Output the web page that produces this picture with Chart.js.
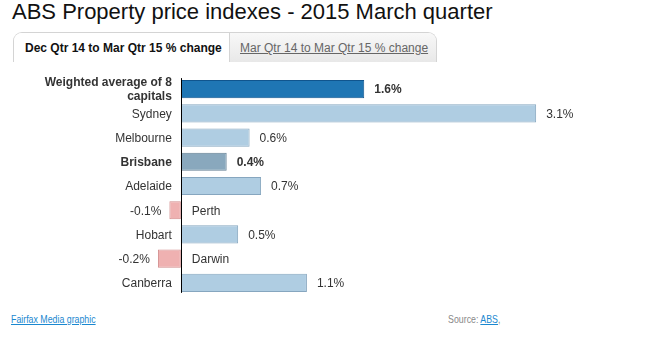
<!DOCTYPE html>
<html>
<head>
<meta charset="utf-8">
<script src="https://cdn.jsdelivr.net/npm/chart.js@4"></script>
<style>
  body { margin: 0; width: 647px; height: 359px; background: #fff; font-family: Arial, "Liberation Sans", sans-serif; position: relative; overflow: hidden; }
  h1 { position: absolute; left: 12px; top: -1px; margin: 0; font-size: 22px; font-weight: normal; color: #111; line-height: 26px; white-space: nowrap; }
  .tabs { position: absolute; left: 13px; top: 32px; height: 29px; width: 422px; border: 1px solid #d4d4d4; border-bottom: none; border-radius: 9px 9px 0 0; overflow: hidden; display: flex; }
  .tab { font-size: 12px; line-height: 30px; height: 29px; white-space: nowrap; box-sizing: border-box; }
  .tab.on { font-weight: bold; color: #111; background: #fff; width: 215px; padding-left: 11px; }
  .tab.off { flex: 1; color: #666; background: linear-gradient(#f8f8f8, #e8e8e8); border-left: 1px solid #d4d4d4; padding-left: 10px; }
  .tab.off span { text-decoration: underline; }
  #wrap { position: absolute; left: 0; top: 70px; width: 647px; height: 230px; }
  .foot { position: absolute; top: 313px; font-size: 11px; white-space: nowrap; transform: scaleX(0.8); }
  .foot a { color: #1a88d0; }
  .src { color: #888; }
</style>
</head>
<body>
<h1>ABS Property price indexes - 2015 March quarter</h1>
<div class="tabs"><div class="tab on">Dec Qtr 14 to Mar Qtr 15 % change</div><div class="tab off"><span>Mar Qtr 14 to Mar Qtr 15 % change</span></div></div>
<div id="wrap"><canvas id="chart"></canvas></div>
<div class="foot" style="left:11px; transform-origin: left center"><a href="#">Fairfax Media graphic</a></div>
<div class="foot src" style="right:147px; transform-origin: right center">Source: <a href="#">ABS</a>,</div>
<script>
// data
const categories = [['Weighted average of 8', 'capitals'], 'Sydney', 'Melbourne', 'Brisbane', 'Adelaide', 'Perth', 'Hobart', 'Darwin', 'Canberra'];
const changes = [1.6, 3.1, 0.6, 0.4, 0.7, -0.1, 0.5, -0.2, 1.1];

const AVERAGE = 0, HOME = 3;

function fillFor(i) {
    if (i === AVERAGE) return '#1f76b4';
    if (i === HOME) return '#89a8bd';
    return changes[i] < 0 ? '#efb1b1' : '#afcde2';
}
function borderFor(i) {
    if (i === AVERAGE) return '#10558e';
    if (i === HOME) return '#637f93';
    return changes[i] < 0 ? '#d28c8c' : '#86a6bf';
}

// labels beside each bar, plus the zero line
const barLabels = {
    id: 'barLabels',
    afterDatasetsDraw(chart) {
        const ctx = chart.ctx;
        const x = chart.scales.x, y = chart.scales.y;
        const zero = x.getPixelForValue(0);
        ctx.save();
        ctx.strokeStyle = '#000';
        ctx.lineWidth = 1;
        ctx.beginPath();
        ctx.moveTo(Math.round(zero) + 0.5, y.getPixelForValue(0) - 11);
        ctx.lineTo(Math.round(zero) + 0.5, y.getPixelForValue(categories.length - 1) + 10);
        ctx.stroke();
        ctx.fillStyle = '#333';
        ctx.textBaseline = 'middle';
        categories.forEach((cat, i) => {
            const bold = (i === AVERAGE || i === HOME);
            ctx.font = (bold ? 'bold ' : '') + '12px Arial, "Liberation Sans", sans-serif';
            const cy = y.getPixelForValue(i);
            const v = changes[i];
            const end = x.getPixelForValue(v);
            const lines = Array.isArray(cat) ? cat : [cat];
            const val = v.toFixed(1) + '%';
            if (v >= 0) {
                ctx.textAlign = 'right';
                lines.forEach((l, k) => ctx.fillText(l, zero - 9, cy + 1 + (k - (lines.length - 1) / 2) * 14));
                ctx.textAlign = 'left';
                ctx.fillText(val, end + 10, cy + 1);
            } else {
                ctx.textAlign = 'left';
                lines.forEach((l, k) => ctx.fillText(l, zero + 11, cy + 1 + (k - (lines.length - 1) / 2) * 14));
                ctx.textAlign = 'right';
                ctx.fillText(val, end - 8, cy + 1);
            }
        });
        ctx.restore();
    }
};

new Chart(document.getElementById('chart'), {
    type: 'bar',
    data: {
        labels: categories,
        datasets: [{
            data: changes,
            backgroundColor: changes.map((v, i) => fillFor(i)),
            borderColor: changes.map((v, i) => borderFor(i)),
            borderWidth: 1,
            borderSkipped: false,
            categoryPercentage: 1,
            barPercentage: 0.75
        }]
    },
    options: {
        indexAxis: 'y',
        responsive: true,
        maintainAspectRatio: false,
        animation: false,
        layout: { padding: { left: 135, right: 65, top: 7, bottom: 5 } },
        scales: {
            x: { display: false, min: -0.4, max: 3.5 },
            y: { display: false }
        },
        plugins: {
            legend: { display: false },
            tooltip: { enabled: false }
        }
    },
    plugins: [barLabels]
});
</script>
</body>
</html>
